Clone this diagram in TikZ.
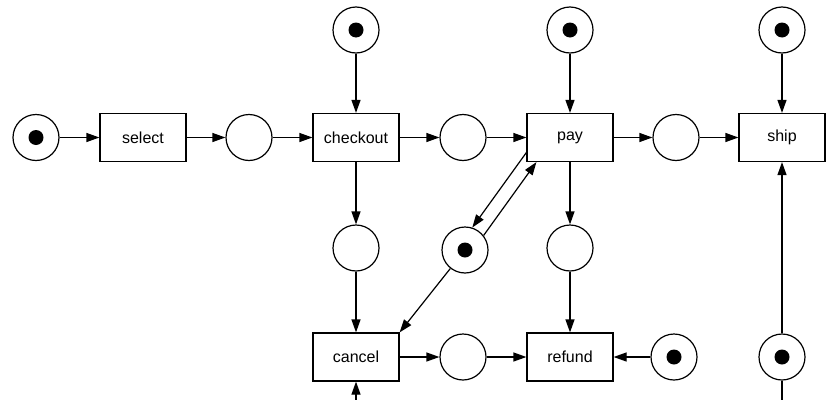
\documentclass[tikz,border=0pt]{standalone}
\usepackage{fontspec}
\setmainfont{Liberation Sans}
\usetikzlibrary{arrows.meta}
\begin{document}
\begin{tikzpicture}[x=1pt,y=-1pt,
  every node/.style={font=\fontsize{16pt}{19pt}\selectfont},
  place/.style={circle,draw,line width=1.2pt,minimum size=46pt,inner sep=0pt},
  tokplace/.style={place,path picture={\fill (path picture bounding box.center) circle (7.5pt);}},
  trans/.style={rectangle,draw,line width=1.2pt,minimum width=86pt,minimum height=48pt,inner sep=0pt},
  arc/.style={line width=1.2pt,-{Triangle[length=13pt,width=9pt]}},
  plain/.style={line width=1.2pt}]
\useasboundingbox (0,0) rectangle (830,399);
\clip (0,0) rectangle (830,399);
% main row
\node[tokplace] (p0) at (36,137.5) {};
\node[trans] (select) at (143,137.5) {select};
\node[place] (p1) at (249,137.5) {};
\node[trans] (checkout) at (356,137.5) {checkout};
\node[place] (p2) at (463,137.5) {};
\node[trans] (pay) at (570,137.5) {pay};
\node[place] (p3) at (676,137.5) {};
\node[trans] (ship) at (782,137.5) {ship};
% top row
\node[tokplace] (tc) at (356,30) {};
\node[tokplace] (tpay) at (570,30) {};
\node[tokplace] (tship) at (782,30) {};
% middle row
\node[place] (pc) at (356,248) {};
\node[tokplace] (tp) at (465,250) {};
\node[place] (pr) at (570,248) {};
% bottom row
\node[trans] (cancel) at (356,357) {cancel};
\node[place] (pm) at (463,357) {};
\node[trans] (refund) at (570,357) {refund};
\node[tokplace] (rt) at (674,357) {};
\node[tokplace] (br) at (782,357) {};
\coordinate (belowC) at (356,440);
\coordinate (belowR) at (782,440);
% connectors
\draw[arc] (p0) -- (select);
\draw[arc] (select) -- (p1);
\draw[arc] (p1) -- (checkout);
\draw[arc] (tc) -- (checkout);
\draw[arc] (checkout) -- (p2);
\draw[arc] (p2) -- (pay);
\draw[arc] (tpay) -- (pay);
\draw[arc] (pay) -- (p3);
\draw[arc] (p3) -- (ship);
\draw[arc] (tship) -- (ship);
\draw[arc] (checkout) -- (pc);
\draw[arc] (pc) -- (cancel);
\draw[arc] (pay) -- (pr);
\draw[arc] (pr) -- (refund);
\draw[arc] ([yshift=-15pt]pay.west) -- (tp.72);
\draw[arc] (tp.38) -- ([xshift=10pt]pay.south west);
\draw[arc] (tp) -- (cancel.north east);
\draw[arc] (cancel) -- (pm);
\draw[arc] (pm) -- (refund);
\draw[arc] (rt) -- (refund);
\draw[arc] (br) -- (ship);
\draw[plain] (br) -- (belowR);
\draw[arc] (belowC) -- (cancel);
\end{tikzpicture}
\end{document}
